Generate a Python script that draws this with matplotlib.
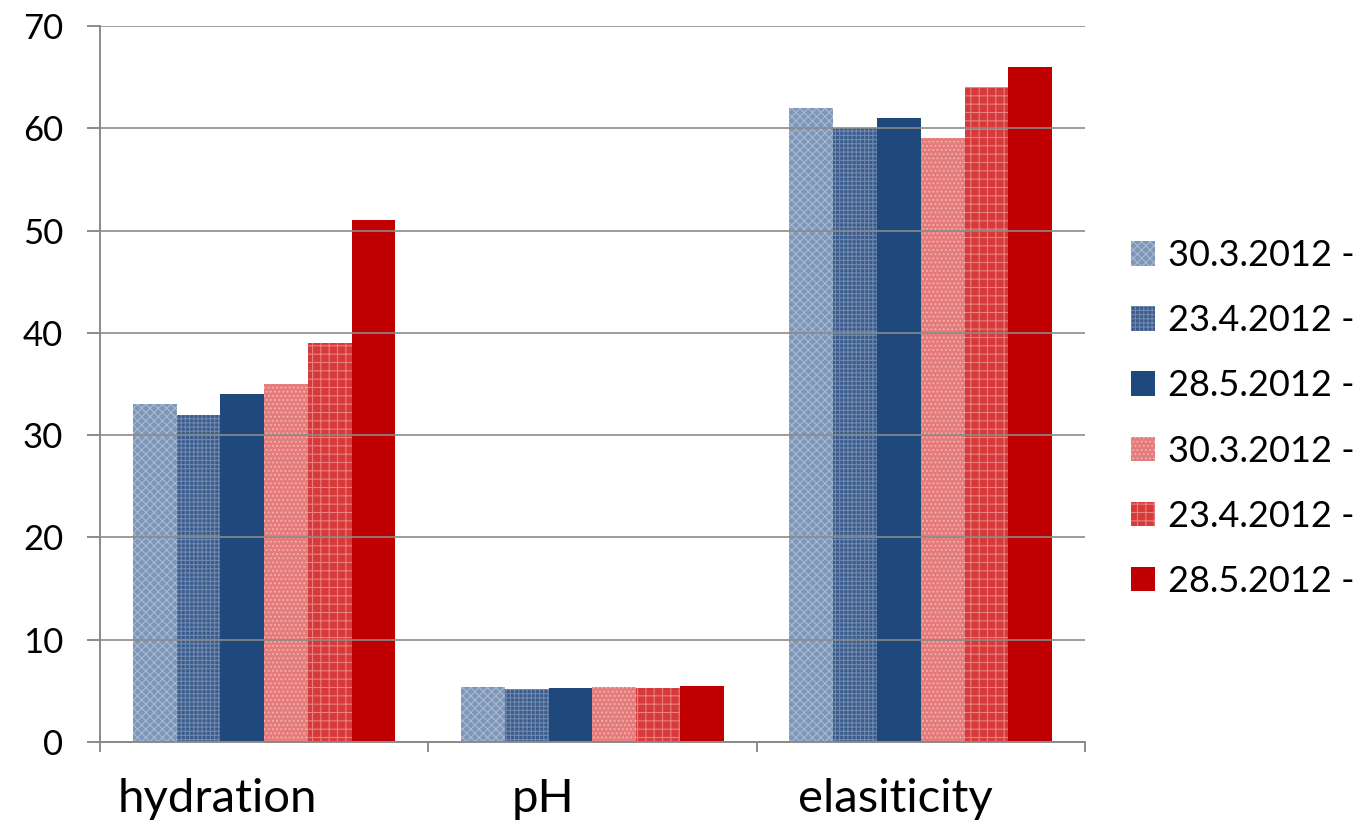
import matplotlib
matplotlib.use("Agg")
import matplotlib.pyplot as plt
import matplotlib.transforms as mtransforms
import numpy as np

plt.rcParams['font.family'] = ['Lato', 'DejaVu Sans']
plt.rcParams['hatch.linewidth'] = 0.8

categories = ["hydration", "pH", "elasiticity"]
series_labels = ["30.3.2012 -", "23.4.2012 -", "28.5.2012 -",
                 "30.3.2012 -", "23.4.2012 -", "28.5.2012 -"]
values = [
    [33, 5.4, 62],
    [32, 5.2, 60],
    [34, 5.3, 61],
    [35, 5.4, 59],
    [39, 5.3, 64],
    [51, 5.5, 66],
]
face_colors = ["#7E96B8", "#3A5C8C", "#1F497D", "#E57C7C", "#D63A3A", "#C00000"]
hatch_colors = ["#A9BAD2", "#7089AD", "#1F497D", "#F2B3B3", "#EB8080", "#C00000"]
hatches = ["xxxx", "++++", None, "....", "++", None]
label_shift_px = [-47, -49, -25]

fig = plt.figure(figsize=(13.71, 8.32), dpi=100)
ax = fig.add_axes([0.0729, 0.1082, 0.7185, 0.8606])

x = np.arange(len(categories))
n = len(values)
group_w = 0.8
bw = group_w / n
handles = []
for i, vals in enumerate(values):
    pos = x - group_w / 2 + bw * (i + 0.5)
    b = ax.bar(pos, vals, width=bw, color=face_colors[i], edgecolor=hatch_colors[i],
               linewidth=0, hatch=hatches[i], zorder=2, label=series_labels[i])
    handles.append(b)

ax.set_xlim(-0.5, 2.5)
ax.set_ylim(0, 70)
ax.set_yticks(range(0, 71, 10))
ax.yaxis.grid(True, color="#8a8a8a", linewidth=1.4, zorder=3, alpha=0.85)
ax.set_axisbelow(False)

ax.set_xticks([-0.5, 0.5, 1.5, 2.5])
ax.set_xticklabels([])
ax.set_xticks(x, minor=True)
ax.set_xticklabels(categories, minor=True, fontsize=34)
ax.tick_params(axis='x', which='major', length=7, width=1.4, color="#8a8a8a", direction='out')
ax.tick_params(axis='x', which='minor', length=0, pad=26)
ax.tick_params(axis='y', length=9.5, width=1.4, color="#8a8a8a", labelsize=25, pad=17)

for lbl, dx in zip(ax.get_xticklabels(minor=True), label_shift_px):
    lbl.set_transform(lbl.get_transform() +
                      mtransforms.ScaledTranslation(dx / 100.0, 0, fig.dpi_scale_trans))

for s in ["top", "right"]:
    ax.spines[s].set_visible(False)
for s in ["left", "bottom"]:
    ax.spines[s].set_color("#8a8a8a")
    ax.spines[s].set_linewidth(1.4)
    ax.spines[s].set_zorder(4)

leg = fig.legend(handles=handles, labels=series_labels, loc="center left",
                 bbox_to_anchor=(0.8145, 0.497), frameon=False, fontsize=26,
                 handlelength=0.67, handleheight=0.67, handletextpad=0.36,
                 labelspacing=0.89, borderaxespad=0)

fig.savefig("out.png", dpi=100)
